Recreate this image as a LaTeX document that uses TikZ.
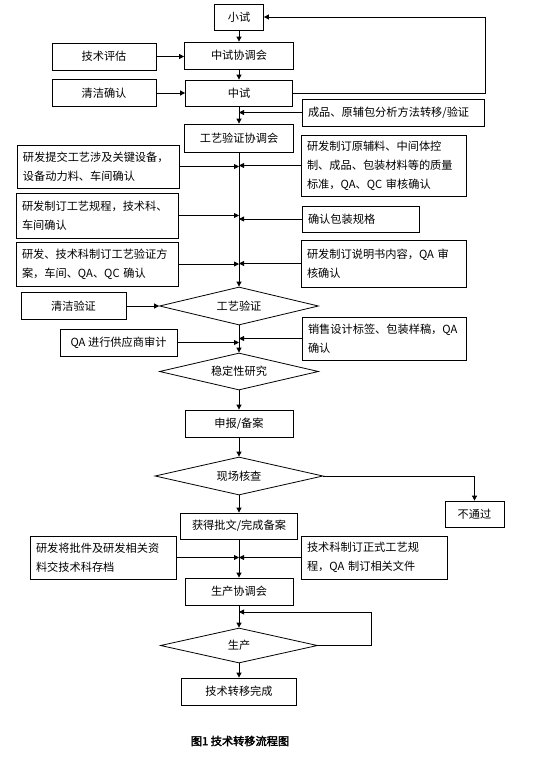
\documentclass[tikz,border=0pt]{standalone}
\usepackage{fontspec}
\newfontfamily\cjk{Noto Sans CJK SC}
\newfontfamily\cjkbf[FakeBold=2.5]{Noto Sans CJK SC}
\usetikzlibrary{arrows.meta,positioning,calc,shapes.geometric}

\begin{document}
\begin{tikzpicture}[x=1pt,y=-1pt,
  every node/.style={font=\cjk\fontsize{11.2}{19}\selectfont},
  box/.style={draw, line width=0.8pt, inner sep=0pt, minimum height=27pt},
  sidebox/.style={draw, line width=0.8pt, inner xsep=6pt, inner ysep=0pt, align=left},
  decision/.style={draw, diamond, line width=0.8pt, inner sep=0pt, aspect=4,
    minimum width=159pt, minimum height=38pt},
  arr/.style={line width=0.8pt, -{Triangle[length=5pt,width=5pt]}}]
\useasboundingbox (0,0) rectangle (545,772);
% Main column
\node[box, minimum width=49pt, minimum height=26pt] (xiaoshi) at (239,17) {小试};
\node[box, minimum width=109pt] (zsxth) at (239,55.5) {中试协调会};
\node[box, minimum width=107pt, minimum height=26pt] (zhongshi) at (239,93) {中试};
\node[box, minimum width=109pt, minimum height=28pt] (gyxth) at (239,138) {工艺验证协调会};
\node[decision] (gyyz) at (239,306) {工艺验证};
\node[decision, minimum height=37pt] (wdx) at (239,371.5) {稳定性研究};
\node[box, minimum width=108pt] (sbba) at (239,423.5) {申报/备案};
\node[decision, minimum width=168pt] (xchc) at (239,476) {现场核查};
\node[box, minimum width=117pt, minimum height=26pt] (hdpw) at (239,526) {获得批文/完成备案};
\node[box, minimum width=108pt] (sccth) at (239,591.5) {生产协调会};
\node[decision, minimum width=157pt, minimum height=35pt] (shengchan) at (239,645.5) {生产};
\node[box, minimum width=115pt] (wancheng) at (239,691.5) {技术转移完成};
% Side inputs
\node[box, minimum width=104pt] (pinggu) at (104,56.5) {技术评估};
\node[box, minimum width=104pt] (qingjie) at (104,93) {清洁确认};
\node[sidebox, text width=170pt, minimum height=27pt] (fangfa) at (393,112.5) {成品、原辅包分析方法转移/验证};
\node[sidebox, text width=150pt, minimum height=43pt] (shebei) at (98,166.5)
  {研发提交工艺涉及关键设备，\\设备动力料、车间确认};
\node[sidebox, text width=153pt, minimum height=61pt] (biaozhun) at (383.5,165.5)
  {研发制订原辅料、中间体控\\制、成品、包装材料等的质量\\标准，QA、QC 审核确认};
\node[sidebox, text width=150pt, minimum height=45pt] (guicheng) at (97,215.5)
  {研发制订工艺规程，技术科、\\车间确认};
\node[sidebox, text width=105pt, minimum height=26pt] (guige) at (360.5,219) {确认包装规格};
\node[sidebox, text width=150pt, minimum height=44pt] (fangan) at (97,264)
  {研发、技术科制订工艺验证方\\案，车间、QA、QC 确认};
\node[sidebox, text width=153pt, minimum height=47pt] (shuoming) at (383.5,263.5)
  {研发制订说明书内容，QA 审\\核确认};
\node[box, minimum width=105pt] (qjyz) at (73.5,306) {清洁验证};
\node[box, minimum width=117pt] (gongying) at (118.5,342.5) {QA 进行供应商审计};
\node[sidebox, text width=152pt, minimum height=43pt] (biaoqian) at (384,338.5)
  {销售设计标签、包装样稿，QA\\确认};
\node[box, minimum width=59pt, minimum height=26pt] (butongguo) at (474.5,514) {不通过};
\node[sidebox, text width=134pt, minimum height=43pt] (cundang) at (103,557.5)
  {研发将批件及研发相关资\\料交技术科存档};
\node[sidebox, text width=134pt, minimum height=43pt] (wenjian) at (374,557.5)
  {技术科制订正式工艺规\\程，QA 制订相关文件};
% Caption
\node[font=\cjkbf\fontsize{11.2}{13}\selectfont] (caption) at (240,741) {图1\ 技术转移流程图};
% Main flow
\foreach \a/\b in {xiaoshi/zsxth, zsxth/zhongshi, zhongshi/gyxth, gyxth/gyyz, gyyz/wdx,
  wdx/sbba, sbba/xchc, xchc/hdpw, hdpw/sccth, sccth/shengchan, shengchan/wancheng}
  \draw[arr] (\a) -- (\b);
% Inputs into boxes
\draw[arr] (pinggu.east) -- (pinggu.east -| zsxth.west);
\draw[arr] (qingjie.east) -- (qingjie.east -| zhongshi.west);
\draw[arr] (qjyz.east) -- (gyyz.west);
% Inputs onto the main line
\foreach \n in {fangfa, biaozhun, guige, shuoming, biaoqian, wenjian}
  \draw[arr] (\n.west) -- (\n.west -| gyxth.south);
\foreach \n in {shebei, guicheng, fangan, gongying, cundang}
  \draw[arr] (\n.east) -- (\n.east -| gyxth.south);
% Loops
\coordinate (back) at (485,17);
\draw[arr] (zhongshi.east) -| (back) -- (xiaoshi.east);
\draw[arr] (xchc.east) -| (butongguo.north);
\coordinate (again) at (371,612);
\draw[arr] (shengchan.east) -| (again) -- (again -| sccth.south);
\end{tikzpicture}
\end{document}
